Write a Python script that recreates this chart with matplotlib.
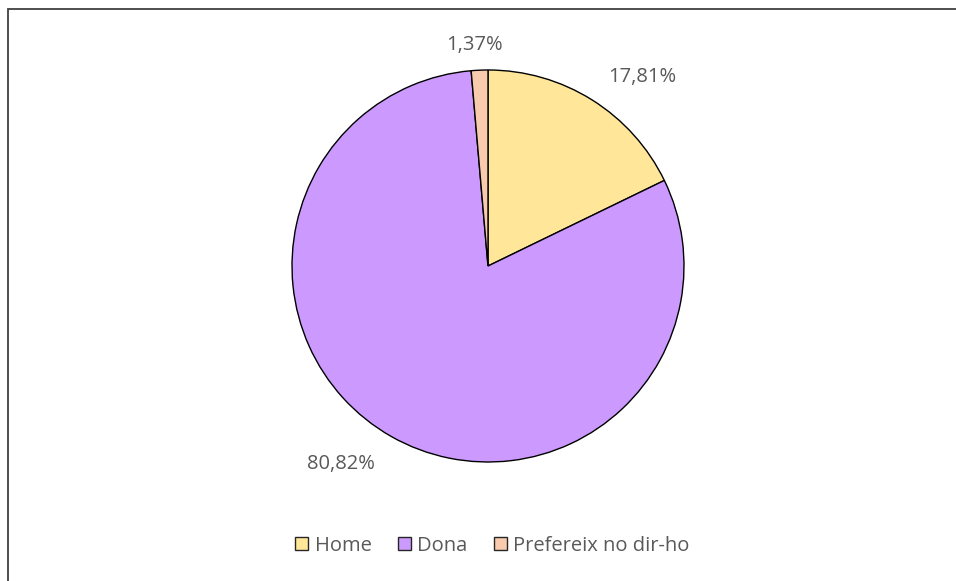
import matplotlib
matplotlib.use("Agg")
import matplotlib.pyplot as plt
from matplotlib.patches import Rectangle

categories = ["Home", "Dona", "Prefereix no dir-ho"]
values = [17.81, 80.82, 1.37]
value_labels = ["17,81%", "80,82%", "1,37%"]
colors = ["#FFE699", "#CC99FF", "#F8CBAD"]

# label layout positions (axes data units, pie radius = 1)
label_xy = [(0.786, 0.965), (-0.750, -1.008), (-0.071, 1.128)]

plt.rcParams['font.family'] = ['Open Sans', 'DejaVu Sans']
W, H = 956, 581
fig = plt.figure(figsize=(W / 100, H / 100), dpi=100)

cx, cy, R = 488, 266, 196
ax = fig.add_axes([(cx - R) / W, (H - cy - R) / H, 2 * R / W, 2 * R / H])
wedges, _ = ax.pie(values, colors=colors, startangle=90, counterclock=False,
                   radius=1, wedgeprops=dict(edgecolor="black", linewidth=1.0))
ax.set_xlim(-1, 1)
ax.set_ylim(-1, 1)
ax.set_aspect('equal')
ax.axis('off')

for (x, y), lab in zip(label_xy, value_labels):
    ax.text(x, y, lab, ha='center', va='center', fontsize=14.5, color='#595959')

leg = fig.legend(wedges, categories, loc='center', bbox_to_anchor=(0.515, 0.061),
                 ncol=3, frameon=False, fontsize=14.5, handlelength=0.68,
                 handleheight=0.68, handletextpad=0.3, columnspacing=1.3,
                 labelcolor='#595959')
for h in leg.legend_handles:
    h.set_edgecolor('#262626')
    h.set_linewidth(1.0)

# chart border (only left and top visible within the canvas)
fig.patches.append(Rectangle((7.5 / W, -0.1), 1.2, 1 - 8.5 / H + 0.1,
                             transform=fig.transFigure, fill=False,
                             edgecolor='#404040', linewidth=1.3))

fig.savefig("out.png", dpi=100, facecolor='white')
